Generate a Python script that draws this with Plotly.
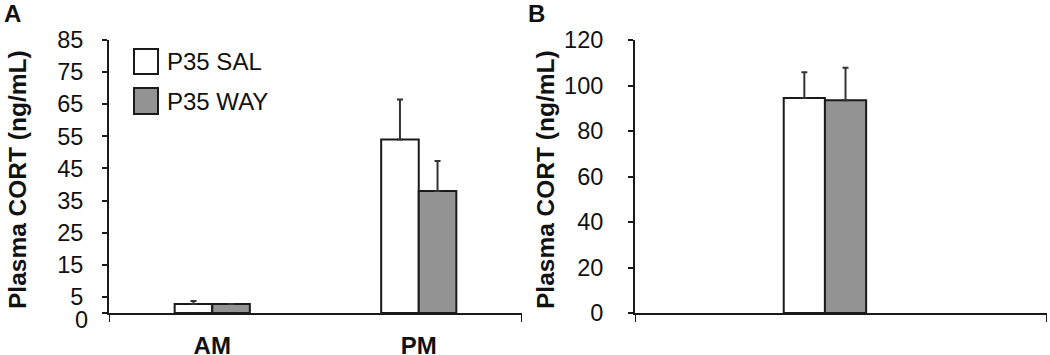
import plotly.graph_objects as go

# ---- data ----
series = ["P35 SAL", "P35 WAY"]
a_categories = ["AM", "PM"]
a_sal = [2.8, 54.0]
a_sal_err = [0.9, 12.5]
a_way = [2.8, 38.0]
a_way_err = [0.0, 9.3]

b_categories = ["P35"]
b_sal = [94.5]
b_sal_err = [11.3]
b_way = [93.5]
b_way_err = [14.3]

a_yticks = [0, 5, 15, 25, 35, 45, 55, 65, 75, 85]
b_yticks = [0, 20, 40, 60, 80, 100, 120]
y_title = "Plasma CORT (ng/mL)"

# ---- style ----
FONT = "Liberation Sans, Arial, sans-serif"
fills = ["#ffffff", "#939393"]
LINE = "#1a1a1a"
W, H = 1050, 355
ydom = [(H - 313) / H, (H - 40) / H]
xdomA = [109 / W, 522 / W]
xdomB = [635 / W, 1047 / W]

fig = go.Figure()

def add_bars(x, vals, errs, name, fill, axis, width, offset):
    fig.add_trace(go.Bar(
        x=x, y=vals, name=name, width=width, offset=offset,
        marker=dict(color=fill, line=dict(color=LINE, width=2)),
        error_y=dict(type="data", array=errs, arrayminus=[0] * len(errs),
                     symmetric=False, color="#333333", thickness=2, width=3),
        xaxis="x" if axis == 1 else "x2", yaxis="y" if axis == 1 else "y2",
        showlegend=False, hoverinfo="skip",
    ))

wA = 0.182
add_bars(a_categories, a_sal, a_sal_err, series[0], fills[0], 1, wA, -wA)
add_bars(a_categories, a_way, a_way_err, series[1], fills[1], 1, wA, 0)
wB = 0.1
add_bars(b_categories, b_sal, b_sal_err, series[0], fills[0], 2, wB, -wB)
add_bars(b_categories, b_way, b_way_err, series[1], fills[1], 2, wB, 0)

line_common = dict(showline=True, linecolor=LINE, linewidth=2, showgrid=False,
                   zeroline=False, automargin=False)
tick_font = dict(family=FONT, size=23.5, color="#111")

rangeA = [-0.5, 1.5]
rangeB = [-0.461, 0.539]

# panel A: the "0" label sits a little below its tick in the original
a_ticktext = ["" if v == 0 else str(v) for v in a_yticks]

fig.update_layout(
    template="none",
    width=W, height=H,
    margin=dict(l=0, r=0, t=0, b=0, pad=0),
    paper_bgcolor="white", plot_bgcolor="white",
    barmode="overlay",
    showlegend=False,
    xaxis=dict(domain=xdomA, anchor="y", type="category", range=rangeA,
               ticks="", ticklabelstandoff=10, **line_common,
               tickfont=dict(family=FONT, size=24, color="#111", weight="bold")),
    yaxis=dict(domain=ydom, anchor="x", range=[0, 85], tickvals=a_yticks,
               ticktext=a_ticktext,
               ticks="outside", ticklen=5, tickwidth=2, tickcolor=LINE,
               ticklabelstandoff=14, tickfont=tick_font, **line_common),
    xaxis2=dict(domain=xdomB, anchor="y2", type="category", range=rangeB,
                ticks="", showticklabels=False, **line_common),
    yaxis2=dict(domain=ydom, anchor="x2", range=[0, 120], tickvals=b_yticks,
                ticks="outside", ticklen=5, tickwidth=2, tickcolor=LINE,
                ticklabelstandoff=20, tickfont=tick_font, **line_common),
)

# end tick marks of the x axes (category boundaries)
shapes = []
for xr, yr, rng in [("x", "y domain", rangeA), ("x2", "y2 domain", rangeB)]:
    for xv in rng:
        shapes.append(dict(type="line", xref=xr, yref=yr, x0=xv, x1=xv,
                           y0=0, y1=-9 / 273, line=dict(color=LINE, width=2)))

annotations = []
# the shifted "0" label of panel A
annotations.append(dict(text=str(a_yticks[0]), xref="x domain", yref="y",
                        x=0, y=a_yticks[0], xanchor="right", yanchor="middle",
                        xshift=-19, yshift=-7, showarrow=False, font=tick_font))

# legend (drawn in panel A)
leg_boxes = [(134, 49, 158, 74), (134, 88, 158, 114)]
for (x0, y0, x1, y1), name, fill in zip(leg_boxes, series, fills):
    shapes.append(dict(type="rect", xref="paper", yref="paper",
                       x0=x0 / W, x1=x1 / W, y0=1 - y0 / H, y1=1 - y1 / H,
                       fillcolor=fill, line=dict(color=LINE, width=2)))
    annotations.append(dict(text=name, xref="paper", yref="paper",
                            x=165 / W, y=1 - ((y0 + y1) / 2) / H,
                            xanchor="left", yanchor="middle", showarrow=False,
                            font=dict(family=FONT, size=24, color="#111")))

# y titles
for xc in (17, 545):
    annotations.append(dict(text=y_title, xref="paper", yref="paper",
                            x=xc / W, y=1 - 180 / H, textangle=-90,
                            xanchor="center", yanchor="middle", showarrow=False,
                            font=dict(family=FONT, size=24.5, color="#111", weight="bold")))

# panel letters
for txt, xc in (("A", 12), ("B", 536)):
    annotations.append(dict(text=txt, xref="paper", yref="paper",
                            x=xc / W, y=1 - 14 / H, xanchor="center", yanchor="middle",
                            showarrow=False,
                            font=dict(family=FONT, size=24, color="#111", weight="bold")))

fig.update_layout(shapes=shapes, annotations=annotations)
fig.write_html("out.html", config={"displayModeBar": False},
               post_script="document.body.style.margin='0';document.body.style.overflow='hidden';")
